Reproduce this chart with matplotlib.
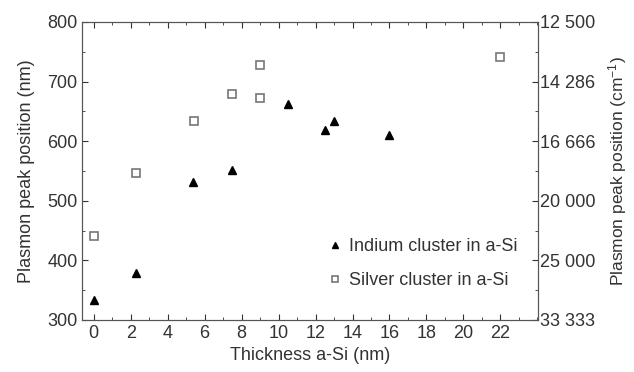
""" plasmon peak position vs a-Si thickness """

import matplotlib
matplotlib.use('Agg')
import matplotlib.pyplot as plt
from matplotlib.ticker import MultipleLocator

plt.rcParams['font.family'] = ['Liberation Sans', 'DejaVu Sans']
plt.rcParams['font.size'] = 13
plt.rcParams['mathtext.default'] = 'regular'

# Indium cluster in a-Si
indium_x = [0, 2.3, 5.35, 7.5, 10.5, 12.5, 13.0, 16.0]
indium_y = [334, 378, 532, 552, 662, 619, 633, 610]

# Silver cluster in a-Si
silver_x = [0, 2.3, 5.4, 7.5, 9.0, 9.0, 22.0]
silver_y = [440, 546, 634, 679, 727, 673, 742]

right_ticks = [800, 700, 600, 500, 400, 300]
right_labels = ['12 500', '14 286', '16 666', '20 000', '25 000', '33 333']

ink = '#333333'

fig = plt.figure(figsize=(6.34, 3.72), dpi=100)
ax = fig.add_axes([0.129, 0.140, 0.720, 0.801])

ax.plot(indium_x, indium_y, linestyle='none', marker='^', markersize=6.2,
        color='black', label='Indium cluster in a-Si')
ax.plot(silver_x, silver_y, linestyle='none', marker='s', markersize=5.5,
        markerfacecolor='white', markeredgecolor='#777777', markeredgewidth=1.2,
        label='Silver cluster in a-Si')

ax.set_xlim(-0.65, 24.05)
ax.set_ylim(300, 800)
ax.xaxis.set_minor_locator(MultipleLocator(1))
ax.set_xticks(range(0, 23, 2))
ax.yaxis.set_major_locator(MultipleLocator(100))
ax.yaxis.set_minor_locator(MultipleLocator(50))
ax.tick_params(which='both', direction='in', top=True, right=False, colors=ink,
               labelsize=13)
ax.tick_params(which='major', length=4)
ax.tick_params(which='minor', length=2)
ax.tick_params(axis='y', pad=3)
ax.set_xlabel('Thickness a-Si (nm)', color=ink, fontsize=13, labelpad=4)
ax.set_ylabel('Plasmon peak position (nm)', color=ink, fontsize=13, labelpad=9)
for s in ax.spines.values():
    s.set_color('#555555')

ax2 = ax.twinx()
ax2.set_ylim(300, 800)
ax2.set_yticks(right_ticks)
ax2.set_yticklabels(right_labels)
ax2.yaxis.set_minor_locator(MultipleLocator(50))
ax2.tick_params(which='both', direction='in', colors=ink, labelsize=13, pad=1)
ax2.tick_params(which='major', length=4)
ax2.tick_params(which='minor', length=2)
ax2.set_ylabel('Plasmon peak position (cm$^{-1}$)', color=ink, fontsize=12.5,
               labelpad=8)
for s in ax2.spines.values():
    s.set_color('#555555')

ax.legend(loc='upper left', bbox_to_anchor=(0.535, 0.275), frameon=False,
          borderpad=0, borderaxespad=0, handletextpad=0.3, handlelength=1.0,
          labelspacing=0.95, fontsize=13, labelcolor=ink, markerscale=0.75)

fig.savefig('out.png', dpi=100)
